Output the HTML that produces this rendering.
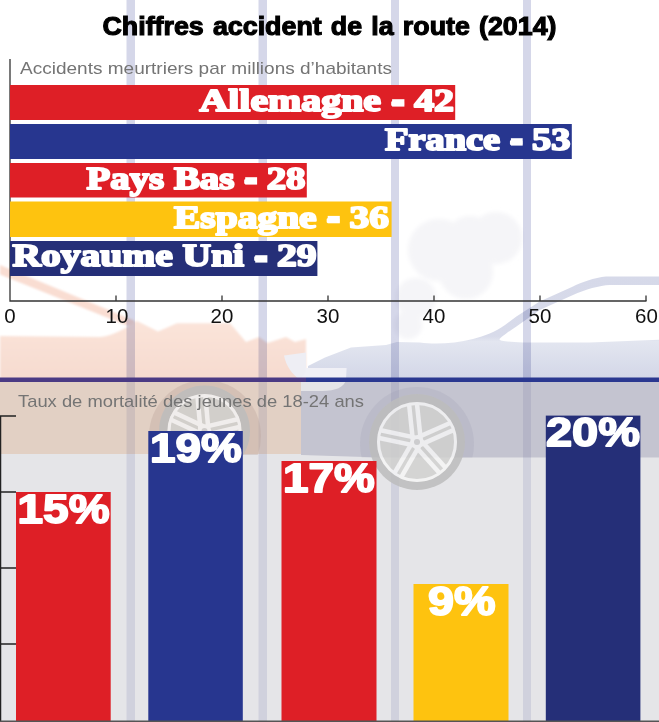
<!DOCTYPE html>
<html><head><meta charset="utf-8">
<style>
html,body{margin:0;padding:0;background:#fff;}
body{width:659px;height:722px;overflow:hidden;font-family:"Liberation Sans",sans-serif;}
svg{display:block;isolation:isolate}
.m{mix-blend-mode:multiply}
.slab{font-family:"Liberation Serif",serif;font-weight:bold;fill:#fff;stroke:#fff;stroke-width:2px;stroke-linejoin:round;font-size:32px}
.pct{font-family:"Liberation Sans",sans-serif;font-weight:bold;fill:#fff;stroke:#fff;stroke-width:1.8px;stroke-linejoin:round;font-size:40.5px}
.ax{font-family:"Liberation Sans",sans-serif;font-size:20.5px;fill:#111;text-anchor:middle}
.sub{font-family:"Liberation Sans",sans-serif;font-size:17px;fill:#747474}
</style></head><body>
<svg width="659" height="722" viewBox="0 0 659 722">
<defs>
  <linearGradient id="gp" x1="0" y1="0" x2="0" y2="1"><stop offset="0" stop-color="#fbe4da"/><stop offset="1" stop-color="#f6dbcf"/></linearGradient>
  <linearGradient id="gc" gradientUnits="userSpaceOnUse" x1="0" y1="276" x2="0" y2="380"><stop offset="0" stop-color="#d6d9e9"/><stop offset="0.58" stop-color="#d8dbea"/><stop offset="0.63" stop-color="#e3e6f0"/><stop offset="1" stop-color="#d2d6e7"/></linearGradient>
  <filter id="b1" x="-20%" y="-20%" width="140%" height="140%"><feGaussianBlur stdDeviation="1.2"/></filter>
  <filter id="b2" x="-20%" y="-20%" width="140%" height="140%"><feGaussianBlur stdDeviation="2"/></filter>
  <filter id="b3" x="-20%" y="-20%" width="140%" height="140%"><feGaussianBlur stdDeviation="3"/></filter>
</defs>
<rect width="659" height="722" fill="#fff"/>

<!-- upper silhouettes -->
<g id="sil">
  <!-- smoke -->
  <g fill="#f5f5f8" filter="url(#b2)">
    <circle cx="439" cy="250" r="31"/><circle cx="496" cy="238" r="26"/><circle cx="466" cy="272" r="27"/>
    <circle cx="470" cy="240" r="24"/><circle cx="416" cy="298" r="20"/><circle cx="408" cy="325" r="14"/>
  </g>
  <!-- car body -->
  <path id="car" fill="url(#gc)" d="M308,366 L325,357.5 L351,347.5 L386,345 L397,342 L420,342.5 C435,344.5 455,343.5 473,339 C485,336 495,332 505,325 L516.4,316.5 L539.7,301.5 L573,286.6 C580,283 595,277.5 606,276.6 L659,276.6 L659,285 L609.5,285 C600,285.5 585,289.5 573,294.9 L539.7,309.9 L516.4,326.5 C508,332 501,337 499.5,339.3 C499.5,341 506,341.8 523,342.4 L589.5,342.4 L659,339.8 L659,380 L308,380 Z"/>
  <!-- person -->
  <path id="arm" fill="#f9ddd2" filter="url(#b1)" d="M0,265 L134,320.5 L138,330 L0,274.5 Z"/>
  <path id="body" fill="url(#gp)" filter="url(#b1)" d="M0,336 L100,337 C115,336 128,326 137,321 L158,331.5 L177,323.3 L230,323.3 L246,342 L259,337 L267.5,343 L286,337 L295,342 L306,339 L306,380 L0,380 Z"/>
  <!-- shard + bowl -->
  <path fill="#eeeef4" d="M284,355.5 L306,352.5 L306,380 L300,380 C292,374 286,366 284,355.5 Z"/>
  <path fill="#f0f0f6" d="M305.5,368 L346.6,368 L346,380 L300,380 L305.5,372 Z"/>
</g>

<!-- lower silhouettes (pre-overlay colours) -->
<g id="lower">
  <path fill="#f9d5b7" d="M0,380 H301.5 V454 H0 Z"/>
  <path fill="#bdbdcf" d="M301,380 H659 V457.5 H380 L301,455 Z"/>
  <path fill="#ffffff" d="M301,380 H346 C344,387 336,391 322,391 L301,391 Z"/>
</g>

<!-- stripes -->
<g class="m" fill="#d5d7e9">
  <rect x="126.5" y="0" width="8.5" height="722"/>
  <rect x="258.5" y="0" width="8.5" height="722"/>
  <rect x="391" y="0" width="8" height="722"/>
  <rect x="523" y="0" width="8" height="722"/>
</g>

<!-- bottom panel overlay -->
<rect x="0" y="380" width="659" height="342" fill="#cbcbd1" fill-opacity="0.5"/>

<!-- wheel arch + wheels -->
<clipPath id="cl2"><rect x="301" y="382" width="358" height="75.5"/></clipPath>
<clipPath id="cl"><rect x="0" y="380" width="659" height="75"/></clipPath>
<circle cx="205" cy="436" r="56" fill="#b9a29b" fill-opacity="0.35" clip-path="url(#cl)"/>
<circle cx="417" cy="444" r="57" fill="#8c8ca6" fill-opacity="0.16" clip-path="url(#cl2)"/>
<g id="w1" opacity="0.85" transform="translate(204.5,431)">
  <circle r="45.5" fill="#bdbdbd"/>
  <circle r="37" fill="#d2d2d0"/>
  <rect x="-6.2" y="-35" width="4.5" height="35" fill="#f6f6f6" transform="rotate(-5)"/>
  <rect x="1.7" y="-35" width="4.5" height="35" fill="#f6f6f6" transform="rotate(-5)"/>
  <rect x="-6.2" y="-35" width="4.5" height="35" fill="#f6f6f6" transform="rotate(77)"/>
  <rect x="1.7" y="-35" width="4.5" height="35" fill="#f6f6f6" transform="rotate(77)"/>
  <rect x="-6.2" y="-35" width="4.5" height="35" fill="#f6f6f6" transform="rotate(150)"/>
  <rect x="1.7" y="-35" width="4.5" height="35" fill="#f6f6f6" transform="rotate(150)"/>
  <rect x="-6.2" y="-35" width="4.5" height="35" fill="#f6f6f6" transform="rotate(215)"/>
  <rect x="1.7" y="-35" width="4.5" height="35" fill="#f6f6f6" transform="rotate(215)"/>
  <rect x="-6.2" y="-35" width="4.5" height="35" fill="#f6f6f6" transform="rotate(-65)"/>
  <rect x="1.7" y="-35" width="4.5" height="35" fill="#f6f6f6" transform="rotate(-65)"/>
  <circle r="35.5" fill="none" stroke="#f6f6f6" stroke-width="3"/>
  <circle r="6" fill="#f6f6f6"/>
  <circle r="3" fill="#cfcfcf"/>
</g>
<g id="w2" opacity="0.85" transform="translate(417,442)">
  <circle r="48" fill="#bdbdbd"/>
  <circle r="40" fill="#d2d2d0"/>
  <rect x="-6.2" y="-38" width="4.5" height="38" fill="#f6f6f6" transform="rotate(-6)"/>
  <rect x="1.7" y="-38" width="4.5" height="38" fill="#f6f6f6" transform="rotate(-6)"/>
  <rect x="-6.2" y="-38" width="4.5" height="38" fill="#f6f6f6" transform="rotate(66)"/>
  <rect x="1.7" y="-38" width="4.5" height="38" fill="#f6f6f6" transform="rotate(66)"/>
  <rect x="-6.2" y="-38" width="4.5" height="38" fill="#f6f6f6" transform="rotate(138)"/>
  <rect x="1.7" y="-38" width="4.5" height="38" fill="#f6f6f6" transform="rotate(138)"/>
  <rect x="-6.2" y="-38" width="4.5" height="38" fill="#f6f6f6" transform="rotate(210)"/>
  <rect x="1.7" y="-38" width="4.5" height="38" fill="#f6f6f6" transform="rotate(210)"/>
  <rect x="-6.2" y="-38" width="4.5" height="38" fill="#f6f6f6" transform="rotate(282)"/>
  <rect x="1.7" y="-38" width="4.5" height="38" fill="#f6f6f6" transform="rotate(282)"/>
  <circle r="38.5" fill="none" stroke="#f6f6f6" stroke-width="3"/>
  <circle r="6" fill="#f6f6f6"/>
  <circle r="3" fill="#cfcfcf"/>
</g>

<!-- divider line -->
<rect x="0" y="377.5" width="306" height="4.5" fill="#4a3a84"/>
<rect x="306" y="377.5" width="353" height="4.5" fill="#2a3890"/>

<!-- top chart axes -->
<g stroke="#333" stroke-width="1.3" fill="none">
  <path d="M10,59 V301 H646.5"/>
  <path d="M116,301 V295.5 M222,301 V295.5 M328,301 V295.5 M434,301 V295.5 M540,301 V295.5 M646,301 V295.5"/>
</g>
<g class="ax">
  <text x="10" y="323">0</text><text x="117" y="323">10</text><text x="222" y="323">20</text>
  <text x="328" y="323">30</text><text x="434" y="323">40</text><text x="540" y="323">50</text><text x="646.5" y="323">60</text>
</g>

<!-- top bars -->
<rect x="10" y="85" width="445.2" height="35" fill="#de1f26"/>
<rect x="10" y="124" width="561.8" height="35" fill="#27368f"/>
<rect x="10" y="163" width="296.8" height="34.5" fill="#de1f26"/>
<rect x="10" y="201.5" width="381.6" height="35.5" fill="#fec30f"/>
<rect x="10" y="241" width="307.4" height="35" fill="#252f78"/>

<text x="329.5" y="35" text-anchor="middle" font-family="Liberation Sans" font-weight="bold" font-size="25" fill="#000" stroke="#000" stroke-width="1.1" word-spacing="1.6" textLength="454" lengthAdjust="spacingAndGlyphs">Chiffres accident de la route (2014)</text>
<text class="sub" x="20" y="74" textLength="372" lengthAdjust="spacingAndGlyphs">Accidents meurtriers par millions d’habitants</text>

<g id="dashes">
<rect x="392.1" y="99.2" width="12.3" height="7.4" fill="#fff"/>
<rect x="510.9" y="138.2" width="11.8" height="7.4" fill="#fff"/>
<rect x="245.2" y="177.2" width="11.9" height="7.4" fill="#fff"/>
<rect x="327.7" y="215.9" width="12.1" height="7.4" fill="#fff"/>
<rect x="255.2" y="255.2" width="12.2" height="7.4" fill="#fff"/>
</g>
<g class="slab">
  <text x="199.5" y="111.2" textLength="254.5" lengthAdjust="spacingAndGlyphs">Allemagne - 42</text>
  <text x="385" y="150.2" textLength="185.5" lengthAdjust="spacingAndGlyphs">France - 53</text>
  <text x="86.5" y="188.8" textLength="219" lengthAdjust="spacingAndGlyphs">Pays Bas - 28</text>
  <text x="174" y="227.8" textLength="215" lengthAdjust="spacingAndGlyphs">Espagne - 36</text>
  <text x="12.5" y="266.3" textLength="304" lengthAdjust="spacingAndGlyphs">Royaume Uni - 29</text>
</g>

<!-- bottom chart -->
<text class="sub" x="18" y="407" font-size="17" fill="#58514e" textLength="346" lengthAdjust="spacingAndGlyphs">Taux de mortalité des jeunes de 18-24 ans</text>
<g stroke="#222" stroke-width="1.5" fill="none">
  <path d="M0.5,416 V722 M0,416 H16 M0,492 H16 M0,568 H16 M0,644 H16"/>
</g>
<rect x="16" y="492" width="94.7" height="230" fill="#de1f26"/>
<rect x="148.3" y="431" width="94.5" height="291" fill="#27368f"/>
<rect x="281.5" y="461" width="95" height="261" fill="#de1f26"/>
<rect x="413.5" y="584" width="95" height="138" fill="#fec30f"/>
<rect x="545.8" y="415.6" width="94.6" height="307" fill="#252f78"/>
<path d="M0,721.2 H659" stroke="#555" stroke-width="1.6" fill="none"/>
<g class="pct">
  <text x="17.5" y="522.6" textLength="92" lengthAdjust="spacingAndGlyphs">15%</text>
  <text x="150" y="461.8" textLength="91.7" lengthAdjust="spacingAndGlyphs">19%</text>
  <text x="283" y="491.6" textLength="91.7" lengthAdjust="spacingAndGlyphs">17%</text>
  <text x="428" y="615" textLength="67.5" lengthAdjust="spacingAndGlyphs">9%</text>
  <text x="546" y="446.2" textLength="94" lengthAdjust="spacingAndGlyphs">20%</text>
</g>
</svg>

</body></html>
